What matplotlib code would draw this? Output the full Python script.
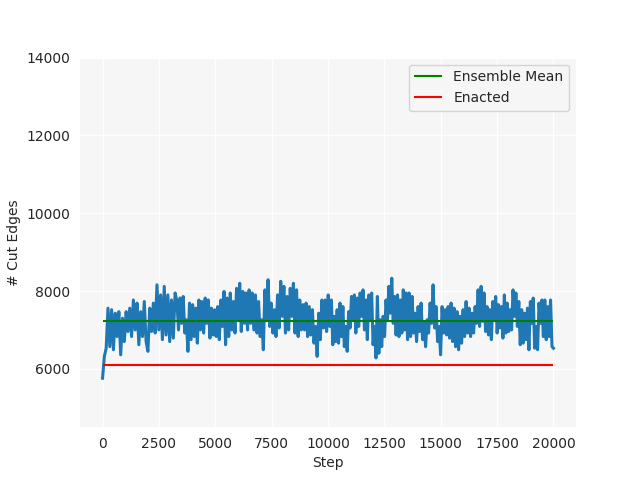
import matplotlib
matplotlib.use("Agg")
import matplotlib.pyplot as plt
import numpy as np

# Each block covers a stretch of steps (block_bounds).
block_bounds = [0, 3300, 6710, 10150, 13530, 16990, 20000]

block_1 = [5760, 6320, 6530, 7560, 6570, 7520, 6490, 7430, 6830, 7470, 6360, 7300,
           6700, 7470, 6960, 7560, 6830, 7770, 7000, 7690, 6620, 7470, 6830, 7730,
           6700, 6450, 7560, 6960, 7690, 6920, 8160, 7000, 7900, 6750, 8120, 6870,
           7900, 6700, 7770, 6790, 7950]
block_2 = [7730, 7000, 7820, 7170, 7860, 6920, 7260, 6450, 7690, 6750, 7650, 6830,
           7560, 6660, 7770, 7000, 7730, 6920, 7820, 7170, 7770, 6790, 7560, 6870,
           7520, 6830, 7600, 6750, 7770, 7090, 7990, 6620, 7820, 6830, 7950, 7000,
           7730, 6920, 8070, 7260, 8200, 6960, 7990, 7170, 7950, 7000, 8030, 7170,
           7950]
block_3 = [7000, 7900, 6920, 7730, 6830, 7260, 6490, 8030, 7260, 8290, 7090, 7690,
           6920, 7520, 6830, 7900, 7050, 8250, 7350, 8120, 6920, 7860, 7000, 8070,
           7350, 8200, 6920, 8030, 6830, 7770, 7000, 7650, 7000, 7690, 6830, 7600,
           6870, 7520, 6660, 7090, 6320, 7430, 6750, 7770, 7050, 7770, 6960, 7900,
           7090]
block_4 = [7770, 6620, 7350, 6700, 7520, 6660, 7690, 6830, 7600, 6570, 7090, 6450,
           7470, 7050, 7860, 7260, 7900, 6920, 7820, 7090, 7950, 7350, 8030, 7000,
           7770, 6750, 7900, 7260, 7950, 6620, 7090, 6280, 7860, 6400, 7260, 6570,
           7350, 6830, 7770, 7260, 8120, 7430, 8330, 7170, 7860, 6870, 7900, 6830,
           7770, 6920, 8030, 7000, 7950]
block_5 = [6750, 7950, 6830, 7860, 6920, 7430, 6700, 7600, 6960, 7690, 6750, 7170,
           6570, 7260, 6920, 7690, 7170, 8160, 7050, 7600, 6700, 7090, 6360, 7600,
           6920, 7520, 6870, 7600, 6790, 7690, 6700, 7560, 6570, 7470, 6490, 7350,
           6660, 7520, 6830, 7730, 6920, 7560, 6830, 7430, 6920, 7600, 7170, 8030,
           7090, 8120, 7220, 7950]
block_6 = [6960, 7600, 6870, 7520, 6750, 7730, 7260, 7860, 6920, 7650, 7050, 7600,
           6790, 7900, 6920, 7690, 6960, 7520, 7000, 8030, 7350, 7950, 7090, 7730,
           6620, 7520, 6660, 7430, 6750, 7560, 6490, 7730, 7170, 7820, 6530, 7090,
           6490, 7690, 7170, 7770, 6830, 7770, 6750, 7600, 6830, 7770, 6570, 6530]

blocks = [block_1, block_2, block_3, block_4, block_5, block_6]

ensemble_mean = 7240
enacted = 6100

steps = []
cut_edges = []
for i, vals in enumerate(blocks):
    lo, hi = block_bounds[i], block_bounds[i + 1]
    n = len(vals)
    if i == len(blocks) - 1:
        xs = np.linspace(lo, hi, n)
    else:
        xs = np.linspace(lo, hi, n, endpoint=False)
    steps.extend(xs)
    cut_edges.extend(vals)

plt.rcParams.update({
    "axes.facecolor": "#f6f6f6",
    "axes.edgecolor": "white",
    "axes.grid": True,
    "grid.color": "white",
    "grid.linewidth": 1.0,
    "axes.spines.left": False,
    "axes.spines.right": False,
    "axes.spines.top": False,
    "axes.spines.bottom": False,
    "xtick.bottom": False,
    "ytick.left": False,
    "text.color": ".15",
    "axes.labelcolor": ".15",
    "xtick.color": ".15",
    "ytick.color": ".15",
})

fig, ax = plt.subplots(figsize=(6.4, 4.8), dpi=100)
ax.set_axisbelow(True)

ax.plot(steps, cut_edges, color="#1f77b4", linewidth=2.2)
ax.hlines(ensemble_mean, 0, 20000, color="green", label="Ensemble Mean")
ax.hlines(enacted, 0, 20000, color="red", label="Enacted")

ax.set_xlim(-1000, 21000)
ax.set_ylim(4500, 14000)
ax.set_xlabel("Step")
ax.set_ylabel("# Cut Edges")
ax.legend(loc="upper right")

fig.savefig("out.png", dpi=100)
